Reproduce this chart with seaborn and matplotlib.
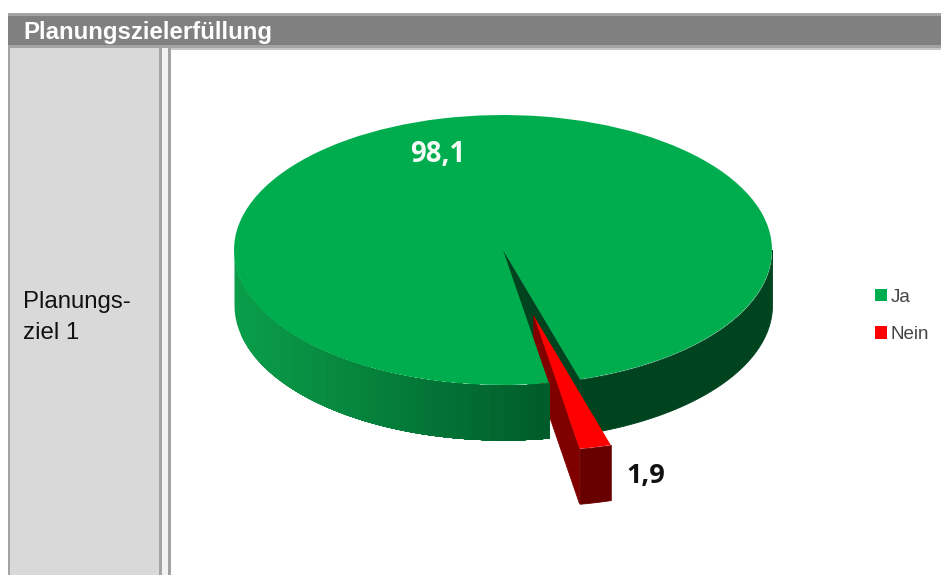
import numpy as np
import matplotlib
matplotlib.use("Agg")
import matplotlib.pyplot as plt
from matplotlib.colors import to_rgb
from matplotlib.patches import Rectangle
import seaborn as sns

title = "Planungszielerfüllung"
row_label = "Planungs-\nziel 1"
categories = ["Ja", "Nein"]
shares = [98.1, 1.9]

sns.set_theme(style="white")
plt.rcParams["font.family"] = ["Liberation Sans", "DejaVu Sans"]
palette = sns.color_palette(["#00AD4E", "#FF0000"])

W, H = 941, 575
fig = plt.figure(figsize=(W / 100, H / 100), dpi=100, facecolor="white")

# Table frame, laid out in pixel units
frame = fig.add_axes([0, 0, 1, 1], zorder=0)
frame.set_xlim(0, W)
frame.set_ylim(H, 0)
frame.axis("off")
for x0, y0, x1, y1, c in [
    (8, 13, W, 48, "#A3A3A3"),
    (8, 16, W, 45, "#808080"),
    (8, 48, 162, H, "#A3A3A3"),
    (10, 48, 159, H, "#D9D9D9"),
    (162, 48, 168, H, "#F2F2F2"),
    (168, 48, 171, H, "#A3A3A3"),
    (171, 48, W, 50, "#C8C8C8"),
]:
    frame.add_patch(Rectangle((x0, y0), x1 - x0, y1 - y0, fc=c, ec="none"))
frame.text(23, 32, title, color="white", fontsize=17.3, fontweight="bold", va="center")
frame.text(23, 317.5, row_label, color="#111111", fontsize=17.3, va="center", linespacing=1.55)

# Pie axes: one x unit is the long radius and one y unit the short radius,
# so a unit circle shows up as the tilted disc
cx, cy, rx, ry = 503, 250, 269, 135
depth = 55 / ry
explode_by = 0.5
ax = fig.add_axes([0, 0, 1, 1], zorder=1)
ax.patch.set_alpha(0)

sweep = np.array(shares) / sum(shares) * 360
start = 80.2
wedges, _ = ax.pie(
    shares,
    colors=palette,
    startangle=-start,
    counterclock=False,
    explode=[0, explode_by],
    radius=1,
)
ax.set_aspect("auto")
ax.set_xlim(-cx / rx, (W - cx) / rx)
ax.set_ylim((cy - H) / ry, cy / ry)
ax.axis("off")

gap_right = start + sweep[0] - 360
gap_left = start
mid = np.radians((gap_right + gap_left) / 2)
off_x, off_y = explode_by * np.cos(mid), -explode_by * np.sin(mid)


def rim_band(t0, t1, color, dx=0.0, dy=0.0, z=1.0, lw=0.0):
    t = np.radians(np.linspace(t0, t1, 90))
    x = np.cos(t) + dx
    y = -np.sin(t) + dy
    ax.fill_between(x, y, y - depth, color=color, lw=lw, zorder=z)


def cut_face(t, color, dx=0.0, dy=0.0, z=1.0):
    a = np.radians(t)
    px, py = np.cos(a), -np.sin(a)
    ax.fill(
        [dx, px + dx, px + dx, dx],
        [dy, py + dy, py + dy - depth, dy - depth],
        color=color, lw=0.6, zorder=z,
    )


# Cut wall seen through the gap, then the shaded outer rim of the large slice
dark_green = "#00431F"
cut_face(gap_right, dark_green, z=1)
rim_band(0, gap_right, dark_green, z=1, lw=0.6)

# The pulled-out slice's inner face passes behind the front of the large slice
cut_face(gap_left, "#800000", off_x, off_y, z=1.05)

# Rim shading: each step repaints everything to its right, which leaves no seams
light_rim = np.array(to_rgb("#0A9E4A"))
dark_rim = np.array(to_rgb("#005C2A"))
steps = 48
edges = np.degrees(np.arccos(np.linspace(-1, np.cos(np.radians(gap_left)), steps + 1)))
for i in range(steps):
    f = i / (steps - 1)
    rim_band(gap_left, edges[i], tuple(light_rim + (dark_rim - light_rim) * f), z=1.1 + i * 0.001)

wedges[0].set_zorder(2)
wedges[0].set_edgecolor("none")

# Outer rim and top of the small slice
rim_band(gap_right, gap_left, "#680000", off_x, off_y, z=3.1, lw=0.6)
wedges[1].set_zorder(4)
wedges[1].set_edgecolor("none")

# Value labels, placed in pixel units on the frame coordinates
label_font = ["Open Sans", "DejaVu Sans"]
labeller = fig.add_axes([0, 0, 1, 1], zorder=5)
labeller.set_xlim(0, W)
labeller.set_ylim(H, 0)
labeller.axis("off")
fmt = [f"{v:.1f}".replace(".", ",") for v in shares]
labeller.text(437.5, 154, fmt[0], color="#F4FBF6", fontsize=19.8, fontweight="bold",
              ha="center", va="center", family=label_font)
labeller.text(645.5, 476, fmt[1], color="#111111", fontsize=19.5, fontweight="bold",
              ha="center", va="center", family=label_font)

# Legend
handles = [Rectangle((0, 0), 1, 1, fc=c, ec="none") for c in palette]
labeller.legend(
    handles, categories,
    loc="upper left", bbox_to_anchor=(875 / W, 1 - 288.5 / H), bbox_transform=fig.transFigure,
    frameon=False, fontsize=13.5, labelcolor="#444444",
    handlelength=0.64, handleheight=0.64, handletextpad=0.2,
    labelspacing=1.1, borderpad=0, borderaxespad=0,
)

fig.savefig("out.png", dpi=100, facecolor="white")
